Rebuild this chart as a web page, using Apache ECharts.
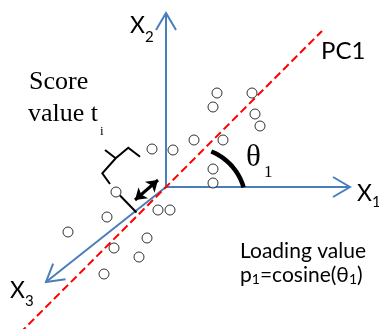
<!DOCTYPE html>
<html>
<head>
<meta charset="utf-8">
<script src="https://cdn.jsdelivr.net/npm/echarts@6/dist/echarts.min.js"></script>
<style>
  html, body { margin: 0; padding: 0; background: #ffffff; }
  #chart { width: 379px; height: 329px; }
</style>
</head>
<body>
<div id="chart"></div>
<script>
// Observations in variable space (x1 to the right, x2 up), origin where the axes cross
const obsX1 = [51, 47, 86, 89, 94, 28, 57, -14, 7, 47, 47, -50, -8, 4, -59, -98, -19, -52, -27, -62];
const obsX2 = [94, 80, 94, 73, 61, 47, 47, 38, 37, 18, 4, -5, -23, -23, -30, -45, -51, -61, -70, -87];

// Tips of the three variable axes X1, X2, X3
const axisTips = [[184, 0], [0, 174], [-120, -95]];
// Ends of the first principal component direction
const pc1Ends = [[-146, -146], [156, 156]];
// Angle between PC1 and X1: arc centre, radius, start/end angle in degrees
const thetaArc = [24.7, -15.5, 55, 16, 68];
// Projection of the marked observation onto the axis
const projection = [[-46, -8.5], [-29.5, -25.5]];
// Brace over the score distance: nib, then the arms
const braceNib = [[-61, 37], [-50.3, 28.7]];
const braceArms = [[-26, 30.3], [-37.7, 39.3], [-50.3, 28.7], [-63.7, 13.7], [-56, 3]];
// Double-headed arrow showing the score distance
const scoreArrow = [[-31, -13], [-8, 7]];

const SANS = 'Lato';
const SERIF = 'Liberation Serif';
const BLUE = '#4a7ebb';

const chart = echarts.init(document.getElementById('chart'), null, { renderer: 'canvas' });

// Open chevron at each axis tip
function chevron(tip, back, half) {
  const len = Math.hypot(tip[0], tip[1]);
  const dx = tip[0] / len, dy = tip[1] / len;
  const nx = -dy, ny = dx;
  const bx = tip[0] - back * dx, by = tip[1] - back * dy;
  return [[bx + half * nx, by + half * ny], tip, [bx - half * nx, by - half * ny]];
}

function arcPoints(a) {
  const [cx, cy, r, a0, a1] = a;
  const pts = [];
  for (let i = 0; i <= 40; i++) {
    const t = (a0 + (a1 - a0) * i / 40) * Math.PI / 180;
    pts.push([cx + r * Math.cos(t), cy + r * Math.sin(t)]);
  }
  return pts;
}

const scatterData = obsX1.map((x, i) => [x, obsX2[i]]);

const option = {
  animation: false,
  backgroundColor: '#ffffff',
  grid: { left: 0, top: 0, right: 0, bottom: 0 },
  xAxis: { type: 'value', min: -166, max: 213, show: false },
  yAxis: { type: 'value', min: -142, max: 187, show: false },
  series: [
    {
      type: 'lines', coordinateSystem: 'cartesian2d', silent: true, z: 2,
      lineStyle: { color: BLUE, width: 2, opacity: 1 },
      data: axisTips.map(t => ({ coords: [[0, 0], t] }))
    },
    {
      type: 'lines', coordinateSystem: 'cartesian2d', polyline: true, silent: true, z: 2,
      lineStyle: { color: BLUE, width: 2, opacity: 1, join: 'miter' },
      data: axisTips.map(t => ({ coords: chevron(t, 17, 10) }))
    },
    {
      type: 'line', silent: true, z: 3, symbol: 'none',
      lineStyle: { color: '#ff0000', width: 2, type: [8, 4] },
      data: pc1Ends
    },
    {
      type: 'line', silent: true, z: 3, symbol: 'none',
      lineStyle: { color: '#000000', width: 4.5, cap: 'butt' },
      data: arcPoints(thetaArc)
    },
    {
      type: 'lines', coordinateSystem: 'cartesian2d', polyline: true, silent: true, z: 4,
      lineStyle: { color: '#000000', width: 2, opacity: 1 },
      data: [{ coords: projection }, { coords: braceNib }, { coords: braceArms }]
    },
    {
      type: 'lines', coordinateSystem: 'cartesian2d', silent: true, z: 4,
      symbol: ['arrow', 'arrow'], symbolSize: 11,
      lineStyle: { color: '#000000', width: 3, opacity: 1 },
      data: [{ coords: scoreArrow }]
    },
    {
      type: 'scatter', silent: true, z: 5,
      symbol: 'circle', symbolSize: 10,
      itemStyle: { color: '#ffffff', borderColor: '#000000', borderWidth: 1 },
      data: scatterData
    }
  ],
  graphic: [
    // axis names
    { type: 'text', left: 130, top: 14, style: { text: 'X', font: '23px ' + SANS, fill: '#000' } },
    { type: 'text', left: 145, top: 30, style: { text: '2', font: '15px ' + SANS, fill: '#000' } },
    { type: 'text', left: 357, top: 182, style: { text: 'X', font: '23px ' + SANS, fill: '#000' } },
    { type: 'text', left: 372, top: 195, style: { text: '1', font: '15px ' + SANS, fill: '#000' } },
    { type: 'text', left: 10, top: 279, style: { text: 'X', font: '23px ' + SANS, fill: '#000' } },
    { type: 'text', left: 25, top: 294, style: { text: '3', font: '15px ' + SANS, fill: '#000' } },
    { type: 'text', left: 321, top: 39, style: { text: 'PC1', font: '24px ' + SANS, fill: '#000' } },
    // score annotation
    { type: 'text', left: 29, top: 69, style: { text: 'Score', font: '26px ' + SERIF, fill: '#000' } },
    { type: 'text', left: 28, top: 101, style: { text: 'value t', font: '26px ' + SERIF, fill: '#000' } },
    { type: 'text', left: 100, top: 125, style: { text: 'i', font: '13px ' + SERIF, fill: '#000' } },
    // angle
    { type: 'text', left: 246, top: 142, style: { text: 'θ', font: '31px ' + SERIF, fill: '#000' } },
    { type: 'text', left: 264, top: 164, style: { text: '1', font: '17px ' + SERIF, fill: '#000' } },
    // loading annotation
    { type: 'text', left: 240, top: 241, style: { text: 'Loading value', font: '21px ' + SANS, fill: '#000' } },
    {
      type: 'text', left: 240, top: 265,
      style: {
        text: 'p{s|1}=cosine(θ{s|1})',
        font: '21px ' + SANS, fill: '#000',
        rich: { s: { fontSize: 14, fontFamily: SANS, verticalAlign: 'bottom', lineHeight: 14 } }
      }
    }
  ]
};

chart.setOption(option);
</script>
</body>
</html>
